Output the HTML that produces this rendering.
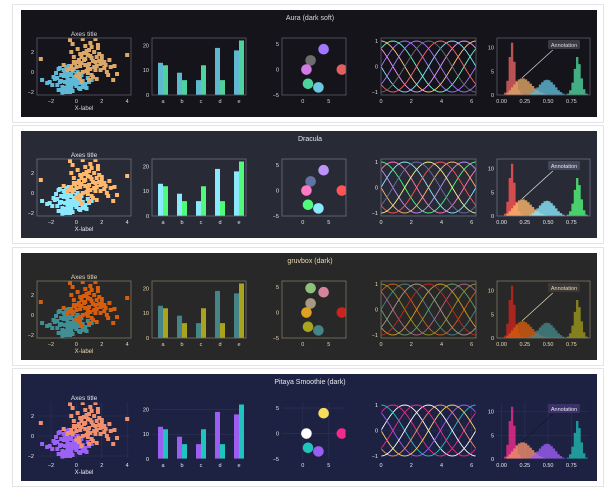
<!DOCTYPE html>
<html><head><meta charset="utf-8"><style>
html,body{margin:0;padding:0;background:#fff;width:615px;height:500px;overflow:hidden}
svg{display:block;font-family:"Liberation Sans",sans-serif}
</style></head><body>
<svg id="chart" width="615" height="500"></svg>
<script>
// ---- data ----
const themeNames = ["Aura (dark soft)", "Dracula", "gruvbox (dark)", "Pitaya Smoothie (dark)"];
const rowTops = [10, 131, 253, 374];
const blueX = [-2.7,-2.1,-1.8,-1.5,-1.4,-1.2,-1.1,-1.0,-0.9,-0.8,-0.7,-0.6,-0.5,-0.4,-0.3,-0.2,-0.1,0,0.1,0.2,0.3,0.5,0.7,0.9,-1.6,-1.3,-0.9,-0.6,-0.3,0,0.4,-0.8,-1.1,-0.4,-0.2,0.2,-1.9,-0.7,0.6,-1.4,-0.5,0.1,1.0,-1.0,-0.3,-1.7,-1.2,-0.8,-0.5,-0.1,0.3,0.8,-2.3,-1.5,-0.9,-0.4,0.0,0.5,-1.1,-0.6,-0.2,1.2,-1.3,-0.7,0.2];
const blueY = [-0.8,-1.0,-0.5,-1.3,-1.8,-0.3,-1.5,0.2,-1.0,-2.0,-0.6,0.6,-1.2,-0.3,-1.9,0.3,-0.8,-1.4,-0.5,-1.1,-1.7,-0.9,-1.2,-0.6,-0.1,-1.0,-1.6,-0.2,-1.0,-0.7,-0.3,0.5,-2.2,-1.5,-0.5,-1.6,-1.3,-1.2,-1.5,0.3,-2.0,0.0,-1.0,-0.4,0.1,-0.7,-0.9,-0.4,-0.8,-1.2,-0.6,-1.6,-1.1,-0.6,0.0,-1.1,-0.2,-1.4,-1.9,-1.6,-0.6,-0.8,0.4,-0.9,-0.8];
const orangeX = [-2.8,-1.0,-0.5,-0.3,-0.2,0,0.1,0.2,0.3,0.4,0.5,0.6,0.7,0.8,0.9,1.0,1.1,1.2,1.3,1.4,1.5,1.6,1.7,1.8,1.9,2.0,2.2,2.4,2.6,2.9,3.2,3.0,4.0,-0.4,0.2,0.9,1.5,1.7,0.5,1.0,0.0,-0.6,0.3,1.2,2.1,0.7,1.6,-0.2,0.8,1.4,2.5,0.4,1.1,1.9,-0.3,0.6,1.3,2.3,-0.1,1.0,1.8,0.2,0.9,1.5,2.7,-0.7,0.4,1.2,2.0,0.7,1.6,0.1,1.1,2.2,-0.4];
const orangeY = [1.3,0.7,3.2,2.8,1.5,0.5,2.3,-0.2,1.8,0.9,3.3,1.2,2.6,0.1,1.7,0.8,2.9,1.4,-0.5,2.0,3.3,0.6,2.4,1.1,0.2,1.6,0.4,0.0,1.2,-0.8,-0.2,0.6,1.7,2.0,-0.6,-0.1,1.0,2.7,0.0,-0.8,-0.4,0.3,0.6,-0.3,0.9,1.3,-0.7,1.0,2.1,0.5,-0.3,-1.0,0.3,0.8,0.2,1.9,1.1,0.7,0.9,2.2,1.8,1.2,0.4,0.2,0.5,0.2,1.5,2.5,1.3,0.7,1.5,1.0,1.6,1.0,0.6];
const barCats = ["a","b","c","d","e"];
const barA = [13, 9, 6, 19, 18];
const barB = [12, 6, 12, 6, 22];
const circX = [1.5, 4.0, 1.5, 0.7, 1.0, 3.0, 7.5];
const circY = [4.8, 4.0, 1.8, 0.0, -2.8, -3.5, 0.0];
const sinePhasesDeg = [0, 45, 90, 135, 180, 225, 270, 315];
const histBinW = 0.025;
const histRedStart = 0,  histRed = [0,0.5,3,8,11,7,3,1,0.3,0];
const histOrgStart = 2,  histOrg = [0.5,1,1.6,2.2,2.8,3.3,3.5,3.5,3.3,2.9,2.4,1.9,1.4,1,0.6,0.4,0.2,0.1];
const histBluStart = 12, histBlu = [0.3,0.6,1,1.6,2.2,2.7,3.1,3.2,3.1,2.7,2.2,1.6,1,0.6,0.3,0.1];
const histGrnStart = 28, histGrn = [0.3,1,2.6,5.5,8,6.5,3.5,1.2,0.3];
const scatXTicks = [-2,0,2,4], scatYTicks = [-2,0,2];
const barYTicks = [0,10,20];
const circXTicks = [0,5], circYTicks = [-5,0,5];
const sineXTicks = [0,2,4,6], sineYTicks = [-1,0,1];
const histXTicks = ["0.00","0.25","0.50","0.75"], histYTicks = [0,5,10];

const themes = [
 {bg:"#15141b", fg:"#d8d7dc", edge:"#5c5b63", s1:"#5fb8d6", s2:"#dca86a", b1:"#5eb9d0", b2:"#4fd39e",
  lines:["#a277ff","#61ffca","#ffca85","#f694ff","#82e2ff","#ff6767","#6d6d6d","#a277ff"],
  hist:["#e46060","#e0a668","#5fb8d6","#4fd39e"], grid:false, annBg:"#3a3a44"},
 {bg:"#282a36", fg:"#e6e6ea", edge:"#6b6e80", s1:"#8be9fd", s2:"#ffb86c", b1:"#8be9fd", b2:"#50fa7b",
  lines:["#8be9fd","#ff79c6","#50fa7b","#bd93f9","#ffb86c","#ff5555","#f1fa8c","#6272a4"],
  hist:["#ff5555","#ffb86c","#8be9fd","#50fa7b"], grid:false, annBg:"#44475a"},
 {bg:"#282828", fg:"#ebdbb2", edge:"#7c7366", s1:"#3f8f95", s2:"#d65d0e", b1:"#458588", b2:"#a8a41d",
  lines:["#458588","#d65d0e","#98971a","#b16286","#689d6a","#d79921","#cc241d","#a89984"],
  hist:["#cc241d","#d65d0e","#458588","#98971a"], grid:false, annBg:"#3c3836"},
 {bg:"#1d2142", fg:"#e8e8f0", edge:"#1d2142", s1:"#9c62f4", s2:"#f0906e", b1:"#9b5ef2", b2:"#20c4bc",
  lines:["#ffffff","#f42a8a","#20c4bc","#9b5ef2","#f9dc5c","#f0906e","#ffffff","#f42a8a"],
  hist:["#f42a8a","#f0906e","#9b5ef2","#20b8b0"], grid:true, annBg:"#3a3268"}
];
const circColorsPerRow = [
 [null,"#a277ff","#6d6d6d","#d27be8","#4fd39e","#6ec7e0","#e46060"],
 [null,"#bd93f9","#6272a4","#ff79c6","#50fa7b","#8be9fd","#ff5555"],
 ["#8ec07c","#d3869b","#a89984","#e0a020","#a8a41d","#458588","#cc241d"],
 [null,"#f9dc5c",null,"#ffffff","#20c4bc","#9b5ef2","#f42a8a"]
];

const svg = document.getElementById('chart');
const NS = "http://www.w3.org/2000/svg";
function el(tag, attrs, parent){ const e=document.createElementNS(NS,tag); for(const k in attrs) e.setAttribute(k,attrs[k]); (parent||svg).appendChild(e); return e; }
function txt(x,y,s,fill,size,anchor,parent){ const t=el('text',{x:x,y:y,fill:fill,'font-size':size,'text-anchor':anchor||'middle'},parent); t.textContent=s; return t; }
function lin(d0,d1,r0,r1){ return v=>r0+(v-d0)/(d1-d0)*(r1-r0); }

let clipId=0;
function axesFrame(g,th,x0,x1,y0,y1,name){
  const r=el('rect',{x:x0,y:y0,width:x1-x0,height:y1-y0,fill:'none',stroke:th.edge,'stroke-width':0.8},g);
  
  
}
function clip(g,x0,x1,y0,y1){ const id='c'+(clipId++); const cp=el('clipPath',{id:id},g); el('rect',{x:x0,y:y0,width:x1-x0,height:y1-y0},cp); return 'url(#'+id+')'; }
function gridLines(g,th,xs,ys,x0,x1,y0,y1){
  if(!th.grid) return;
  xs.forEach(x=>el('line',{x1:x,x2:x,y1:y0,y2:y1,stroke:'#2e335a','stroke-width':0.6},g));
  ys.forEach(y=>el('line',{x1:x0,x2:x1,y1:y,y2:y,stroke:'#2e335a','stroke-width':0.6},g));
}

themes.forEach((th,ri)=>{
  const T=rowTops[ri];
  const g=el('g',{});
  
  
  const fr=el('rect',{x:12.5,y:T-5.5,width:591,height:118,fill:'#fff',stroke:'#e4e4e8','stroke-width':1},g);
  
  
  const bg=el('rect',{x:21,y:T,width:576,height:107,fill:th.bg},g);
  
  
  const tt=txt(310,T+10,themeNames[ri],th.fg,7,'middle',g);
  
  
  const AY0=T+28, AY1=T+85;
  const fs=5.5;

  // scatter
  {
    const x0=37,x1=131, sx=lin(-3.1,4.3,x0,x1), sy=lin(-2.3,3.4,AY1,AY0);
    const sg=el('g',{},g);
    
    
    gridLines(sg,th,scatXTicks.map(sx),scatYTicks.map(sy),x0,x1,AY0,AY1);
    const cp=clip(sg,x0,x1,AY0,AY1);
    const pg=el('g',{'clip-path':cp},sg);
    blueX.forEach((v,i)=>{ const r=el('rect',{x:sx(v)-2,y:sy(blueY[i])-2,width:4,height:4,fill:th.s1},pg);
        });
    orangeX.forEach((v,i)=>{ const r=el('rect',{x:sx(v)-2,y:sy(orangeY[i])-2,width:4,height:4,fill:th.s2},pg);
        });
    axesFrame(sg,th,x0,x1,AY0,AY1,'scatter');
    scatXTicks.forEach(v=>txt(sx(v),AY1+8,String(v).replace('-','−'),th.fg,fs,'middle',sg));
    scatYTicks.forEach(v=>txt(x0-3,sy(v)+2,String(v).replace('-','−'),th.fg,fs,'end',sg));
    const at=txt((x0+x1)/2,AY0-2,'Axes title',th.fg,6.5,'middle',sg);
     
    const xl=txt((x0+x1)/2,AY1+15,'X-label',th.fg,6,'middle',sg);
     
  }
  // bars
  {
    const x0=152,x1=246, sy=lin(0,23,AY1,AY0), cx=i=>163+i*19;
    const bgp=el('g',{},g);
    
    
    gridLines(bgp,th,[],barYTicks.map(sy),x0,x1,AY0,AY1);
    barCats.forEach((c,i)=>{
      const r1=el('rect',{x:cx(i)-5,y:sy(barA[i]),width:5,height:AY1-sy(barA[i]),fill:th.b1},bgp);
       
      const r2=el('rect',{x:cx(i),y:sy(barB[i]),width:5,height:AY1-sy(barB[i]),fill:th.b2},bgp);
       
      txt(cx(i),AY1+8,c,th.fg,fs,'middle',bgp);
    });
    axesFrame(bgp,th,x0,x1,AY0,AY1,'bar');
    barYTicks.forEach(v=>txt(x0-3,sy(v)+2,String(v),th.fg,fs,'end',bgp));
  }
  // circles
  {
    const x0=282,x1=346, sx=lin(-4,8.3,x0,x1), sy=lin(-5,6.2,AY1,AY0);
    const cg=el('g',{},g);
    
    
    gridLines(cg,th,circXTicks.map(sx),circYTicks.map(sy),x0,x1,AY0,AY1);
    const cp=clip(cg,x0,x1,AY0,AY1);
    const pg=el('g',{'clip-path':cp},cg);
    const cols=circColorsPerRow[ri];
    circX.forEach((v,i)=>{ if(!cols[i]) return;
      const c=el('circle',{cx:sx(v),cy:sy(circY[i]),r:5.3,fill:cols[i]},pg);
        });
    axesFrame(cg,th,x0,x1,AY0,AY1,'circle');
    circXTicks.forEach(v=>txt(sx(v),AY1+8,String(v),th.fg,fs,'middle',cg));
    circYTicks.forEach(v=>txt(x0-3,sy(v)+2,String(v).replace('-','−'),th.fg,fs,'end',cg));
  }
  // sines
  {
    const x0=381,x1=476, sx=lin(0,2*Math.PI,x0,x1), sy=lin(-1.12,1.12,AY1,AY0);
    const lg=el('g',{},g);
    
    
    gridLines(lg,th,sineXTicks.map(sx),sineYTicks.map(sy),x0,x1,AY0,AY1);
    sinePhasesDeg.forEach((ph,k)=>{
      let d='';
      for(let i=0;i<=80;i++){ const x=i/80*2*Math.PI; d+=(i?'L':'M')+sx(x).toFixed(2)+','+sy(Math.sin(x+ph*Math.PI/180)).toFixed(2); }
      const p=el('path',{d:d,fill:'none',stroke:th.lines[k],'stroke-width':0.9},lg);
       
    });
    axesFrame(lg,th,x0,x1,AY0,AY1,'sine');
    sineXTicks.forEach(v=>txt(sx(v),AY1+8,String(v),th.fg,fs,'middle',lg));
    sineYTicks.forEach(v=>txt(x0-3,sy(v)+2,String(v).replace('-','−'),th.fg,fs,'end',lg));
  }
  // histogram
  {
    const x0=497,x1=590, sx=lin(-0.05,0.95,x0,x1), sy=lin(0,12,AY1,AY0);
    const hg=el('g',{},g);
    
    
    gridLines(hg,th,[0,0.25,0.5,0.75].map(sx),histYTicks.map(sy),x0,x1,AY0,AY1);
    const sets=[[histRedStart,histRed],[histOrgStart,histOrg],[histBluStart,histBlu],[histGrnStart,histGrn]];
    sets.forEach((s,k)=>{
      let d='M'+sx(s[0]*histBinW).toFixed(2)+','+AY1;
      s[1].forEach((v,i)=>{ const a=sx((s[0]+i)*histBinW), b=sx((s[0]+i+1)*histBinW); d+='L'+a.toFixed(2)+','+sy(v).toFixed(2)+'L'+b.toFixed(2)+','+sy(v).toFixed(2); });
      d+='L'+sx((s[0]+s[1].length)*histBinW).toFixed(2)+','+AY1+'Z';
      const p=el('path',{d:d,fill:th.hist[k],'fill-opacity':0.8},hg);
       
    });
    axesFrame(hg,th,x0,x1,AY0,AY1,'histogram');
    histXTicks.forEach(v=>txt(sx(parseFloat(v)),AY1+8,v,th.fg,fs,'middle',hg));
    histYTicks.forEach(v=>txt(x0-3,sy(v)+2,String(v),th.fg,fs,'end',hg));
    const ar=el('line',{x1:sx(0.55),y1:AY0+12,x2:sx(0.22),y2:sy(3.6),stroke:ri===3?'#15172e':th.fg,'stroke-width':0.7},hg);
     
    const ab=el('rect',{x:548,y:AY0+2,width:32,height:9,rx:1.5,fill:th.annBg},hg);
     
    const at=txt(564,AY0+8.8,'Annotation',th.fg,5.5,'middle',hg);
     
  }
});
</script>
</body></html>
